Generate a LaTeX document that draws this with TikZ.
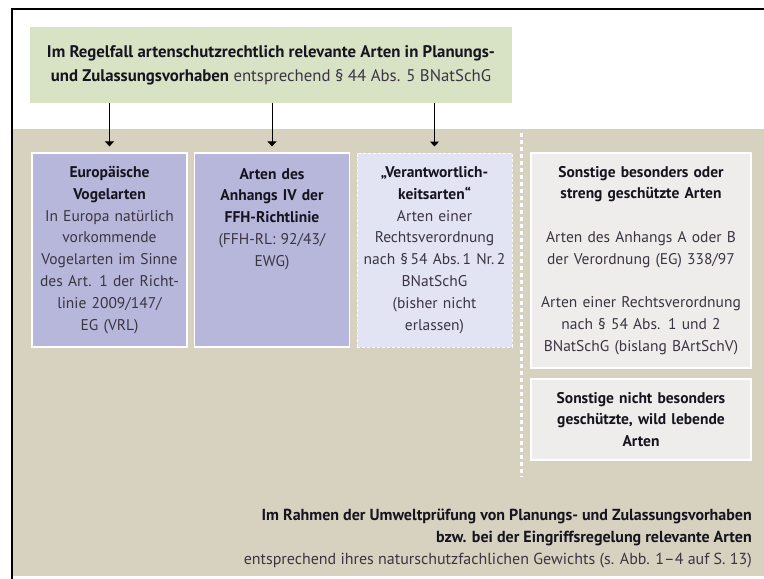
\documentclass[tikz,border=0pt]{standalone}
\usepackage{fontspec}
\setmainfont{PT Sans}
\usetikzlibrary{arrows.meta}

\definecolor{beige}{HTML}{D7D1BF}
\definecolor{gruen}{HTML}{D8E3C6}
\definecolor{lila}{HTML}{B6B7DA}
\definecolor{hellila}{HTML}{E3E4F3}
\definecolor{grau}{HTML}{EEEDEB}
\definecolor{schrift}{HTML}{3B3542}
\definecolor{dunkel}{HTML}{15141F}
\newcommand{\fett}[1]{{\bfseries\color{dunkel}#1}}

\begin{document}
\begin{tikzpicture}[x=1pt, y=-1pt,
        kasten/.style = {fill=lila, draw=white, line width=1.2pt, text=schrift, text width=149pt, inner xsep=3pt, inner ysep=7pt, minimum height=194pt, align=center, font=\fontsize{15.5}{21.8}\selectfont},
        grau/.style = {kasten, fill=grau, line width=1.8pt, text width=214pt},
        pfeil/.style = {-{Triangle[width=9pt,length=5pt]}, line width=1pt, shorten >=6pt}]

        \useasboundingbox (0,0) rectangle (764,579);
        \fill[beige] (13,129) rectangle (764,576);
        \draw[line width=2pt] (12,579) -- (12,9) -- (764,9);

        \node[fill=gruen, minimum width=482pt, minimum height=76pt, text=schrift, align=center, font=\fontsize{16.8}{24}\selectfont] (regel) at (271,65) {\fett{Im Regelfall artenschutzrechtlich relevante Arten in Planungs-}\\ \fett{und Zulassungsvorhaben} entsprechend § 44 Abs. 5 BNatSchG};

        \node[kasten] (vogel) at (109.5,250) {\fett{Europäische}\\ \fett{Vogelarten}\\ In Europa natürlich\\ vorkommende\\ Vogelarten im Sinne\\ des Art. 1 der Richt-\\ linie 2009/147/\\ EG (VRL)};
        \node[kasten] (ffh) [right of=vogel, node distance=162.5pt] {\fett{Arten des}\\ \fett{Anhangs IV der}\\ \fett{FFH-Richtlinie}\\ (FFH-RL: 92/43/\\ EWG)\\ ~\\ ~\\ ~};
        \node[kasten, fill=hellila, line width=1pt, dash pattern=on 3pt off 2pt] (verant) [right of=ffh, node distance=162.5pt] {\fett{„Verantwortlich-}\\ \fett{keitsarten“}\\ Arten einer\\ Rechtsverordnung\\ nach §\,54 Abs.\,1 Nr.\,2\\ BNatSchG\\ (bisher nicht\\ erlassen)};

        \draw[pfeil] (vogel.north |- regel.south) -- (vogel);
        \draw[pfeil] (ffh.north |- regel.south) -- (ffh);
        \draw[pfeil] (verant.north |- regel.south) -- (verant);

        % Trennlinie
        \coordinate (oben) at (521,133);
        \coordinate (unten) at (521,477);
        \draw[white, line width=3pt, dash pattern=on 4pt off 3pt] (oben) -- (unten);

        \node[grau, minimum height=215pt] (sonst) at (641,260.5) {\fett{Sonstige besonders oder}\\ \fett{streng geschützte Arten}\\ ~\\ Arten des Anhangs A oder B\\ der Verordnung (EG) 338/97\\ ~\\ Arten einer Rechtsverordnung\\ nach § 54 Abs. 1 und 2\\ BNatSchG (bislang BArtSchV)};
        \node[grau, minimum height=81pt] (nicht) [below of=sonst, node distance=159pt] {\fett{Sonstige nicht besonders}\\ \fett{geschützte, wild lebende}\\ \fett{Arten}};

        \node[anchor=east, inner sep=0pt, align=right, text=schrift, font=\fontsize{16}{22}\selectfont] (umwelt) at (752,538) {\fett{Im Rahmen der Umweltprüfung von Planungs- und Zulassungsvorhaben}\\ \fett{bzw. bei der Eingriffsregelung relevante Arten}\\ entsprechend ihres naturschutzfachlichen Gewichts (s. Abb. 1–4 auf S. 13)};

\end{tikzpicture}
\end{document}
